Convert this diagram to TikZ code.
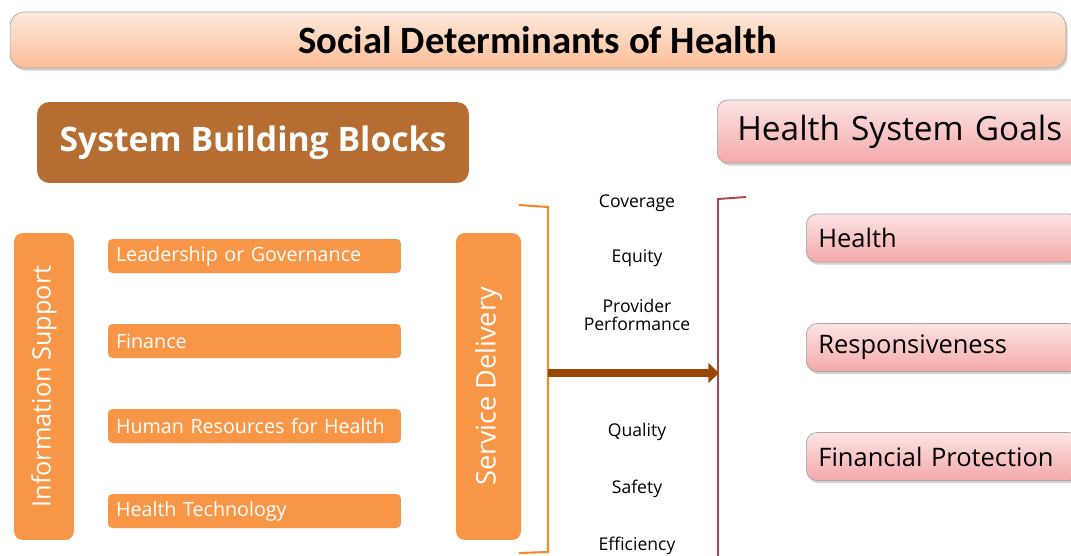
\documentclass[tikz,border=0pt]{standalone}
\usepackage{fontspec}
\setmainfont{Open Sans}
\newfontfamily\titlefont{Carlito}
\usetikzlibrary{shadows, arrows.meta}

\definecolor{peachtop}{HTML}{FDE9DC}
\definecolor{peachbot}{HTML}{FBBE98}
\definecolor{pinktop}{HTML}{FCE4E4}
\definecolor{pinkbot}{HTML}{F4A9A9}
\definecolor{blockbrown}{HTML}{B56D31}
\definecolor{blockorange}{HTML}{F79646}
\definecolor{bracketorange}{HTML}{F08A2E}
\definecolor{bracketred}{HTML}{B0474A}
\definecolor{arrowbrown}{HTML}{984807}

\tikzset{
  titlebox/.style={draw=gray!70, rounded corners=8pt, top color=peachtop, bottom color=peachbot,
    drop shadow={shadow xshift=1pt, shadow yshift=-1.5pt, opacity=.35}},
  goalbox/.style={draw=gray!70, rounded corners=6pt, top color=pinktop, bottom color=pinkbot,
    drop shadow={shadow xshift=1pt, shadow yshift=-1.5pt, opacity=.35}, align=left},
  blockbox/.style={fill=blockorange, rounded corners=2.5pt, text=white, align=left,
    font=\fontsize{11.2}{13}\selectfont, minimum height=0.68cm, inner xsep=0.16cm, text width=5.54cm},
  sidebox/.style={fill=blockorange, rounded corners=5pt, text=white, rotate=90, minimum width=6.14cm},
  dimlabel/.style={font=\fontsize{10}{10.5}\selectfont, align=center}
}

\begin{document}
\begin{tikzpicture}[x=0.02cm, y=-0.02cm]
\useasboundingbox (0,0) rectangle (1071,555);
% Banner
\node[titlebox, minimum width=21.12cm, minimum height=1.12cm,
      font=\titlefont\bfseries\fontsize{22}{24}\selectfont] (sdh) at (538,40) {Social Determinants of Health};
% Building blocks
\node[fill=blockbrown, rounded corners=7pt, text=white, minimum width=8.64cm, minimum height=1.62cm,
      font=\bfseries\fontsize{19.2}{22}\selectfont] (sbb) at (253,142.5) {System Building Blocks};
\node[sidebox, minimum height=1.2cm, font=\fontsize{14.4}{17}\selectfont] (info) at (44,386.5) {Information Support};
\node[blockbox] (lead) at (254.5,256) {Leadership or Governance};
\node[blockbox] (fin)  at (254.5,341) {Finance};
\node[blockbox] (hr)   at (254.5,426) {Human Resources for Health};
\node[blockbox] (tech) at (254.5,511) {Health Technology};
\node[sidebox, minimum height=1.3cm, font=\fontsize{15.4}{18}\selectfont] (serv) at (488.5,386.5) {Service Delivery};
% Intermediate goals
\node[dimlabel] (cov)  at (637,203) {Coverage};
\node[dimlabel] (eq)   at (637,258) {Equity};
\node[dimlabel] (prov) at (637,315) {Provider\\Performance};
\node[dimlabel] (qual) at (637,432) {Quality};
\node[dimlabel] (saf)  at (637,489) {Safety};
\node[dimlabel] (eff)  at (637,546) {Efficiency};
% Brackets
\coordinate (ob1) at (519,205);
\coordinate (ob2) at (548,207);
\coordinate (ob3) at (548,552);
\coordinate (ob4) at (519,553);
\coordinate (rb1) at (746,197);
\coordinate (rb2) at (718,199);
\coordinate (rb3) at (718,557);
\draw[bracketorange, line width=1.2pt] (ob1) -- (ob2) -- (ob3) -- (ob4);
\draw[bracketred, line width=1.1pt] (rb1) -- (rb2) -- (rb3);
\coordinate (arrs) at (548,373);
\coordinate (arre) at (719,373);
\draw[arrowbrown, line width=5pt, -{Triangle[length=6pt, width=11pt]}] (arrs) -- (arre);
% Health system goals
\node[goalbox, minimum height=1.26cm, inner xsep=0.4cm, text width=7.6cm,
      font=\fontsize{19}{22}\selectfont, anchor=west] (hsg) at (717,131.5) {Health System Goals};
\node[goalbox, minimum height=0.96cm, inner xsep=0.24cm, text width=4.98cm,
      font=\fontsize{14.5}{17}\selectfont, anchor=west] (health) at (806,238) {Health};
\node[goalbox, minimum height=0.96cm, inner xsep=0.24cm, text width=4.98cm,
      font=\fontsize{14.5}{17}\selectfont, anchor=west] (resp) at (806,347.5) {Responsiveness};
\node[goalbox, minimum height=0.96cm, inner xsep=0.24cm, text width=4.98cm,
      font=\fontsize{14.5}{17}\selectfont, anchor=west] (finprot) at (806,456.5) {Financial Protection};
\end{tikzpicture}
\end{document}
